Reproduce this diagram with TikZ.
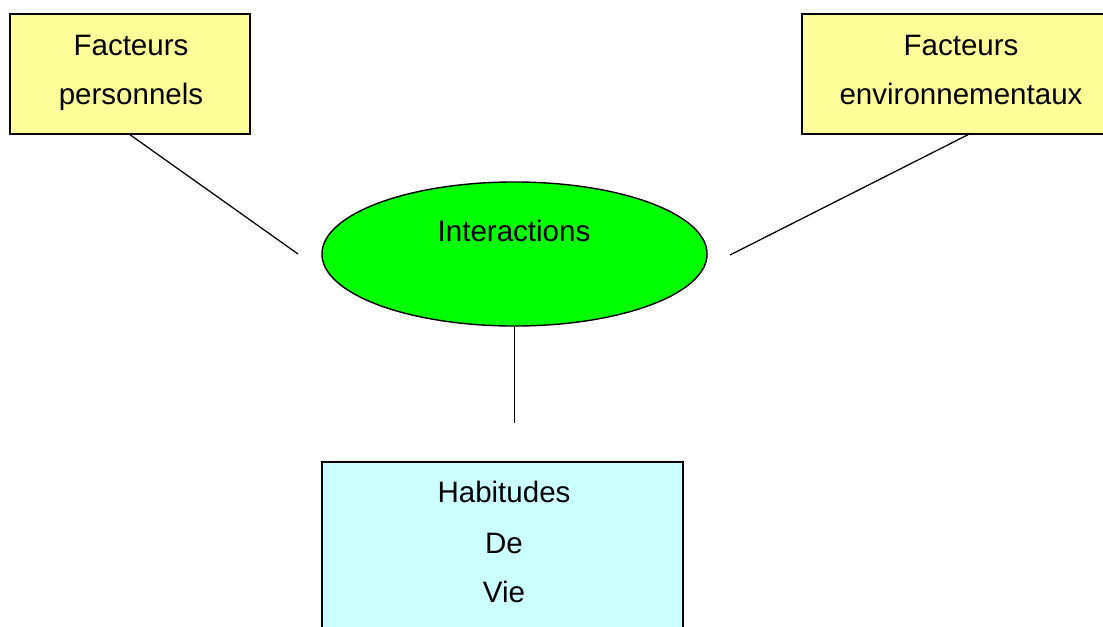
\documentclass[tikz,border=0pt]{standalone}
\usepackage{fontspec}
\setmainfont{Liberation Sans}
\usetikzlibrary{shapes.geometric}

\definecolor{jaune}{HTML}{FFFF99}
\definecolor{vert}{HTML}{00FF00}
\definecolor{ciel}{HTML}{CCFFFF}

\tikzset{
  facteur/.style={draw=black, line width=1pt, fill=jaune},
  habitude/.style={draw=black, line width=1pt, fill=ciel},
  interaction/.style={ellipse, draw=black, line width=1pt, fill=vert},
  texte/.style={anchor=base, inner sep=0pt, font=\fontsize{21}{25}\selectfont},
  lien/.style={draw=black, line width=0.9pt}
}

\begin{document}
\begin{tikzpicture}[x=0.025cm,y=-0.025cm]
  \useasboundingbox (0,0) rectangle (1103,626);
  \clip (0,0) rectangle (1103,626);

  % les deux familles de facteurs
  \node[facteur, minimum width=6cm, minimum height=3cm] (perso) at (130,74) {};
  \node[texte] (perso1) at (131,55) {Facteurs};
  \node[texte] (perso2) at (131,104) {personnels};

  \node[facteur, minimum width=8.3cm, minimum height=3cm] (env) at (968,74) {};
  \node[texte] (env1) at (961,55) {Facteurs};
  \node[texte] (env2) at (961,104) {environnementaux};

  % interactions
  \node[interaction, minimum width=9.625cm, minimum height=3.6cm] (inter) at (514.5,254) {};
  \node[texte] (inter1) at (514,241) {Interactions};

  % habitudes de vie
  \node[habitude, minimum width=9.025cm, minimum height=4.5cm] (hab) at (502.5,552) {};
  \node[texte] (hab1) at (504,502) {Habitudes};
  \node[texte] (hab2) at (504,553) {De};
  \node[texte] (hab3) at (504,602) {Vie};

  % liens
  \coordinate (pg) at (298,254);
  \coordinate (pd) at (730,255);
  \coordinate (pb) at (514.5,423);
  \draw[lien] (perso.south) -- (pg);
  \draw[lien] (env.south) -- (pd);
  \draw[lien] (inter.south) -- (pb);
\end{tikzpicture}
\end{document}
